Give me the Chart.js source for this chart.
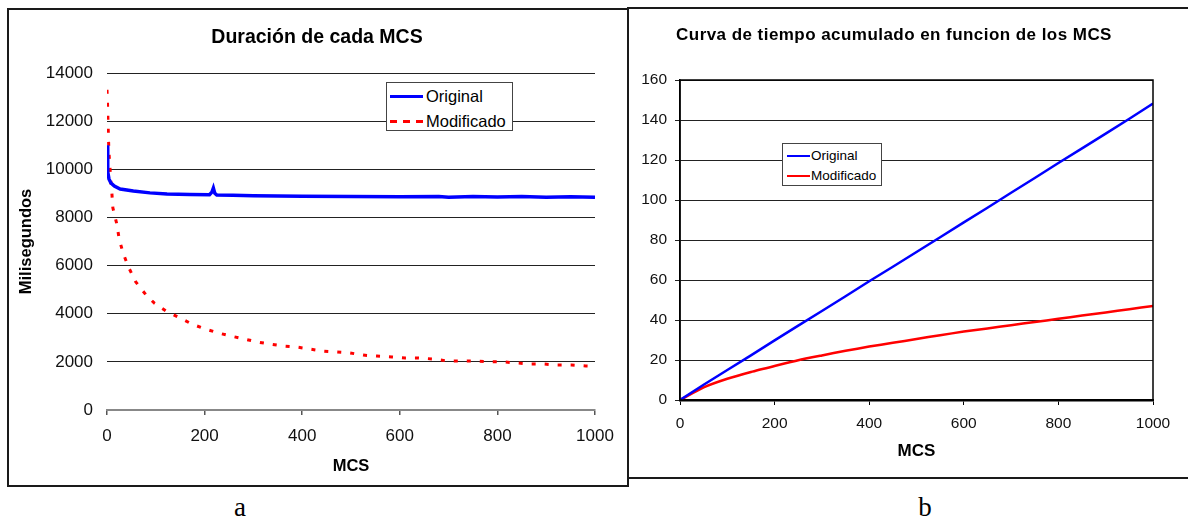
<!DOCTYPE html>
<html>
<head>
<meta charset="utf-8">
<script src="https://cdn.jsdelivr.net/npm/chart.js@4.4.0/dist/chart.umd.min.js"></script>
<style>
  html, body { margin: 0; padding: 0; background: #fff; }
  body {
    width: 1188px; height: 520px; position: relative; overflow: hidden;
    font-family: 'Liberation Sans', Arial, sans-serif; color: #000;
  }
  .panel { position: absolute; box-sizing: border-box; border: 2px solid #1a1a1a; background: #fff; }
  #panelA { left: 7px; top: 8px; width: 622px; height: 479px; }
  #panelB { left: 627px; top: 7px; width: 561px; height: 472px; border-right: none; }
  .panel canvas { position: absolute; left: 0; top: 0; }
  .chart-title {
    position: absolute; font-weight: bold; white-space: nowrap; line-height: 1;
    transform: translate(-50%, -50%);
  }
  .legend { position: absolute; box-sizing: border-box; border: 1px solid #444; background: #fff; }
  .legend-line { position: absolute; }
  .legend-label { position: absolute; white-space: nowrap; line-height: 1; transform: translateY(-50%); }
  .caption {
    position: absolute; line-height: 1; transform: translateX(-50%);
    font-family: 'Liberation Serif', 'Times New Roman', serif; font-size: 27px;
  }
</style>
</head>
<body>

<div class="panel" id="panelA"><canvas id="chartA" width="618" height="475"></canvas></div>
<div class="panel" id="panelB"><canvas id="chartB" width="559" height="468"></canvas></div>

<div class="chart-title" style="left:317px; top:37px; font-size:19.5px;">Duración de cada MCS</div>
<div class="chart-title" style="left:894px; top:34px; font-size:17px; letter-spacing:0.45px;">Curva de tiempo acumulado en funcion de los MCS</div>

<div class="legend" id="legendA" style="left:386px; top:82px; width:127px; height:49px;"></div>
<div class="legend" id="legendB" style="left:782px; top:143px; width:100px; height:43px;"></div>

<div class="caption" style="left:240px; top:494px;">a</div>
<div class="caption" style="left:925px; top:494px;">b</div>

<script>
// Figure a: duration of each MCS (milliseconds)
const mcsOriginal = [0, 1, 2, 4, 8, 15, 27, 54, 88, 123, 170, 210, 215, 218, 221, 225, 258, 300, 400, 500, 600, 680, 700, 750, 800, 850, 900, 950, 1000];
const msOriginal = [11000, 10300, 9900, 9600, 9430, 9300, 9180, 9100, 9020, 8970, 8950, 8940, 9050, 9220, 9000, 8930, 8920, 8900, 8880, 8870, 8860, 8870, 8840, 8870, 8850, 8870, 8840, 8860, 8840];

const mcsModificado = [0, 1, 2, 3, 4, 6, 8, 10, 12, 20, 25, 33, 44, 59, 80, 97, 121, 150, 174, 202, 228, 254, 281, 307, 333, 360, 387, 416, 442, 471, 498, 525, 553, 584, 611, 639, 668, 696, 723, 750, 780, 811, 842, 869, 895, 922, 952, 981, 1000];
const msModificado = [13300, 12800, 12000, 11300, 10700, 10100, 9500, 9000, 8400, 7730, 7100, 6520, 5940, 5320, 4780, 4440, 4110, 3820, 3570, 3360, 3200, 3070, 2950, 2830, 2740, 2660, 2620, 2530, 2450, 2410, 2370, 2280, 2240, 2200, 2160, 2160, 2120, 2040, 2040, 2040, 2000, 2000, 1950, 1910, 1910, 1870, 1870, 1830, 1820];

// Figure b: accumulated time
const mcsAcumulado = [0, 50, 100, 150, 200, 250, 300, 350, 400, 450, 500, 550, 600, 650, 700, 750, 800, 850, 900, 950, 1000];
const acumOriginal = [0, 7.6, 15, 22.3, 29.8, 37.2, 44.5, 51.9, 59.4, 66.6, 74, 81.4, 88.8, 96.1, 103.6, 111, 118.5, 125.8, 133.2, 140.6, 148.2];
const acumModificado = [0, 6.3, 10.6, 14, 17, 19.9, 22.3, 24.6, 26.7, 28.6, 30.5, 32.4, 34.2, 35.8, 37.4, 39, 40.6, 42.2, 43.8, 45.4, 47];

// Tick labels
const xTicks = [0, 200, 400, 600, 800, 1000];
const yTicksA = [0, 2000, 4000, 6000, 8000, 10000, 12000, 14000];
const yTicksB = [0, 20, 40, 60, 80, 100, 120, 140, 160];

const seriesNames = ['Original', 'Modificado'];
const BLUE = '#0000ff';
const RED = '#ff0000';

function toPoints(xs, ys) {
    return xs.map((x, i) => ({ x: x, y: ys[i] }));
}

function fixedTicks(values) {
    return axis => { axis.ticks = values.map(v => ({ value: v })); };
}

// plain numbers, no thousands separator
const plainLabel = v => String(v);

// Draws a box round the plot area (figure b has a framed plot)
const plotFrame = {
    id: 'plotFrame',
    afterDatasetsDraw(chart, args, opts) {
        if (!opts.color) return;
        const { ctx, chartArea: a } = chart;
        ctx.save();
        ctx.strokeStyle = opts.color;
        ctx.lineWidth = opts.width || 1;
        ctx.strokeRect(a.left, a.top, a.right - a.left, a.bottom - a.top);
        ctx.restore();
    }
};

Chart.defaults.font.family = "'Liberation Sans', Arial, sans-serif";
Chart.defaults.color = '#111';

// ---- Figure a ----
new Chart(document.getElementById('chartA'), {
    type: 'line',
    data: {
        datasets: [{
            label: seriesNames[0],
            data: toPoints(mcsOriginal, msOriginal),
            borderColor: BLUE,
            borderWidth: 3.5,
            pointRadius: 0,
            tension: 0
        }, {
            label: seriesNames[1],
            data: toPoints(mcsModificado, msModificado),
            borderColor: RED,
            borderWidth: 3,
            borderDash: [4, 9],
            pointRadius: 0,
            tension: 0
        }]
    },
    options: {
        responsive: false,
        animation: false,
        layout: { padding: { top: 63, right: 32, bottom: 0, left: 0 } },
        plugins: {
            legend: { display: false }, // custom legend below
            tooltip: { enabled: false }
        },
        scales: {
            x: {
                type: 'linear',
                min: 0,
                max: 1000,
                afterBuildTicks: fixedTicks(xTicks),
                afterFit: s => { s.height = 75; },
                grid: { drawOnChartArea: false, drawTicks: true, tickLength: 5, color: '#555', lineWidth: 1.5 },
                border: { display: true, color: '#888', width: 2 },
                ticks: { font: { size: 17 }, padding: 11.5, maxRotation: 0, callback: plainLabel },
                title: {
                    display: true, text: 'MCS', color: '#000',
                    font: { size: 16.5, weight: 'bold' },
                    padding: { top: 0, bottom: 9 }
                }
            },
            y: {
                min: 0,
                max: 14000,
                afterBuildTicks: fixedTicks(yTicksA),
                afterFit: s => { s.width = 98; },
                grid: {
                    drawTicks: false,
                    color: c => c.tick.value === 0 ? '#888' : '#222',
                    lineWidth: c => c.tick.value === 0 ? 2 : 1
                },
                border: { display: false },
                ticks: { font: { size: 17 }, padding: 14, callback: plainLabel },
                title: {
                    display: true, text: 'Milisegundos', color: '#000',
                    font: { size: 16.5, weight: 'bold' },
                    padding: { top: 7.5, bottom: 0 }
                }
            }
        }
    }
});

// ---- Figure b ----
new Chart(document.getElementById('chartB'), {
    type: 'line',
    data: {
        datasets: [{
            label: seriesNames[0],
            data: toPoints(mcsAcumulado, acumOriginal),
            borderColor: BLUE,
            borderWidth: 2.5,
            pointRadius: 0,
            tension: 0
        }, {
            label: seriesNames[1],
            data: toPoints(mcsAcumulado, acumModificado),
            borderColor: RED,
            borderWidth: 2.5,
            pointRadius: 0,
            tension: 0.2
        }]
    },
    options: {
        responsive: false,
        animation: false,
        layout: { padding: { top: 71, right: 35, bottom: 0, left: 0 } },
        plugins: {
            legend: { display: false },
            tooltip: { enabled: false },
            plotFrame: { color: '#000', width: 1.5 }
        },
        scales: {
            x: {
                type: 'linear',
                min: 0,
                max: 1000,
                afterBuildTicks: fixedTicks(xTicks),
                afterFit: s => { s.height = 77; },
                grid: { drawOnChartArea: false, drawTicks: true, tickLength: 5, color: '#000', lineWidth: 1 },
                border: { display: true, color: '#000', width: 2.5 },
                ticks: { font: { size: 15.5 }, padding: 9, maxRotation: 0, callback: plainLabel },
                title: {
                    display: true, text: 'MCS', color: '#000',
                    font: { size: 17, weight: 'bold' },
                    padding: { top: 0, bottom: 15 }
                }
            },
            y: {
                min: 0,
                max: 160,
                afterBuildTicks: fixedTicks(yTicksB),
                afterFit: s => { s.width = 51; },
                grid: { drawTicks: true, tickLength: 5, color: '#222', lineWidth: 1 },
                border: { display: true, color: '#000', width: 1.5 },
                ticks: { font: { size: 15.5 }, padding: 8, callback: plainLabel }
            }
        }
    },
    plugins: [plotFrame]
});

// Custom legends, drawn as HTML boxes over the plots
function buildLegend(id, cfg) {
    const box = document.getElementById(id);
    box.innerHTML = '';
    cfg.items.forEach((item, i) => {
        const y = cfg.rowY[i];
        const line = document.createElement('div');
        line.className = 'legend-line';
        line.style.left = cfg.lineX + 'px';
        line.style.width = cfg.lineW + 'px';
        line.style.height = cfg.lineH + 'px';
        line.style.top = (y - cfg.lineH / 2) + 'px';
        line.style.background = item.dashed
            ? `repeating-linear-gradient(to right, ${item.color} 0 7px, transparent 7px 13px)`
            : item.color;
        box.appendChild(line);

        const label = document.createElement('span');
        label.className = 'legend-label';
        label.textContent = item.name;
        label.style.left = cfg.textX + 'px';
        label.style.top = y + 'px';
        label.style.fontSize = cfg.fontSize + 'px';
        box.appendChild(label);
    });
}

buildLegend('legendA', {
    items: [
        { name: seriesNames[0], color: BLUE, dashed: false },
        { name: seriesNames[1], color: RED, dashed: true }
    ],
    rowY: [13, 38],
    lineX: 3, lineW: 33, lineH: 3,
    textX: 39, fontSize: 16.5
});

buildLegend('legendB', {
    items: [
        { name: seriesNames[0], color: BLUE, dashed: false },
        { name: seriesNames[1], color: RED, dashed: false }
    ],
    rowY: [12, 32],
    lineX: 4, lineW: 23, lineH: 2,
    textX: 28, fontSize: 13.5
});
</script>
</body>
</html>
